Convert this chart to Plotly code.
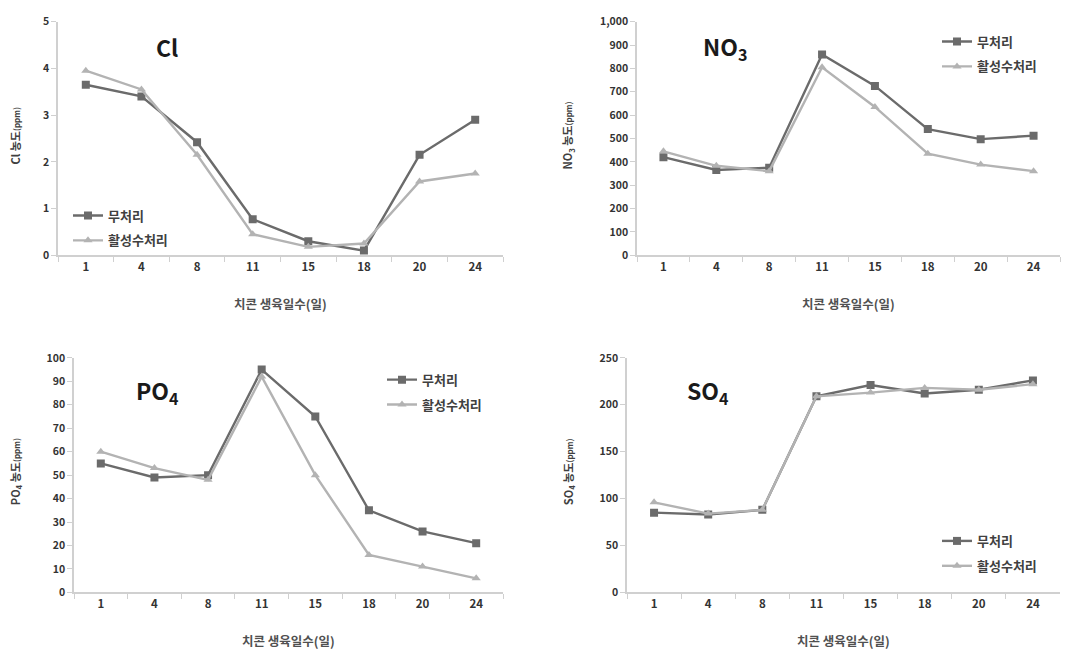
import plotly.graph_objects as go

days = ["1", "4", "8", "11", "15", "18", "20", "24"]
series_names = ["무처리", "활성수처리"]

cl_none = [3.65, 3.40, 2.42, 0.77, 0.30, 0.10, 2.15, 2.90]
cl_act = [3.95, 3.55, 2.15, 0.45, 0.18, 0.25, 1.58, 1.75]

no3_none = [420, 365, 375, 860, 725, 540, 497, 512]
no3_act = [445, 383, 360, 805, 635, 435, 388, 360]

po4_none = [55, 49, 50, 95, 75, 35, 26, 21]
po4_act = [60, 53, 48, 92, 50, 16, 11, 6]

so4_none = [85, 83, 88, 209, 221, 212, 216, 226]
so4_act = [96, 84, 88, 209, 213, 218, 216, 222]

cl_ticks = [0, 1, 2, 3, 4, 5]
cl_labels = ["0", "1", "2", "3", "4", "5"]
no3_ticks = [0, 100, 200, 300, 400, 500, 600, 700, 800, 900, 1000]
no3_labels = ["0", "100", "200", "300", "400", "500", "600", "700", "800", "900", "1,000"]
po4_ticks = [0, 10, 20, 30, 40, 50, 60, 70, 80, 90, 100]
po4_labels = ["0", "10", "20", "30", "40", "50", "60", "70", "80", "90", "100"]
so4_ticks = [0, 50, 100, 150, 200, 250]
so4_labels = ["0", "50", "100", "150", "200", "250"]

W, H = 1073, 660
FONT = "Noto Sans CJK KR, Noto Sans, sans-serif"
DARK = "#6b6b6b"
LIGHT = "#b3b3b3"
AXIS = "#d0d0d0"

panels = [
    dict(none=cl_none, act=cl_act, yt=cl_ticks, yl=cl_labels,
         px=(58, 503), py=(14, 253), title="<b>Cl</b>", tpos=(167, 40),
         ytitle="<b>Cl 농도<span style='font-size:8px'>(ppm)</span></b>", ytx=15,
         leg=(68, 197)),
    dict(none=no3_none, act=no3_act, yt=no3_ticks, yl=no3_labels,
         px=(637, 1060), py=(14, 253), title="<b>NO<sub>3</sub></b>", tpos=(725, 40),
         ytitle="<b>NO<sub>3</sub> 농도<span style='font-size:8px'>(ppm)</span></b>", ytx=568,
         leg=(937, 19)),
    dict(none=po4_none, act=po4_act, yt=po4_ticks, yl=po4_labels,
         px=(74, 503), py=(358, 598), title="<b>PO<sub>4</sub></b>", tpos=(157, 392),
         ytitle="<b>PO<sub>4</sub> 농도<span style='font-size:8px'>(ppm)</span></b>", ytx=15,
         leg=(382, 365)),
    dict(none=so4_none, act=so4_act, yt=so4_ticks, yl=so4_labels,
         px=(627, 1060), py=(358, 598), title="<b>SO<sub>4</sub></b>", tpos=(708, 392),
         ytitle="<b>SO<sub>4</sub> 농도<span style='font-size:8px'>(ppm)</span></b>", ytx=568,
         leg=(937, 530)),
]

fig = go.Figure()
annotations = []
layout = {}

for i, p in enumerate(panels):
    n = i + 1
    xa = "x" if n == 1 else f"x{n}"
    ya = "y" if n == 1 else f"y{n}"
    legname = "legend" if n == 1 else f"legend{n}"
    for name, vals, color, sym, msize in [
        (series_names[0], p["none"], DARK, "square", 8),
        (series_names[1], p["act"], LIGHT, "triangle-up", 8),
    ]:
        fig.add_trace(go.Scatter(
            x=days, y=vals, name=name, mode="lines+markers",
            line=dict(color=color, width=2.4),
            marker=dict(symbol=sym, size=msize, color=color),
            xaxis=xa, yaxis=ya, legend=legname,
            legendgroup=f"{n}-{name}",
        ))
    x0, x1 = p["px"]
    y0, y1 = p["py"]
    xd = [x0 / W, x1 / W]
    yd = [1 - y1 / H, 1 - y0 / H]
    layout["xaxis" if n == 1 else f"xaxis{n}"] = dict(
        domain=xd, anchor=ya, type="category", range=[-0.5, 7.5],
        tickvals=days, ticktext=[f"<b>{d}</b>" for d in days],
        showline=True, linecolor=AXIS, linewidth=1.5,
        ticks="outside", tickson="boundaries", ticklen=5, tickcolor=AXIS,
        showgrid=False, zeroline=False,
        tickfont=dict(family=FONT, size=11.5, color="#333333"),
    )
    layout["yaxis" if n == 1 else f"yaxis{n}"] = dict(
        domain=yd, anchor=xa, range=[p["yt"][0], p["yt"][-1]],
        tickvals=p["yt"], ticktext=[f"<b>{t}</b>" for t in p["yl"]],
        showline=True, linecolor=AXIS, linewidth=1.5,
        ticks="outside", ticklen=5, tickcolor=AXIS,
        showgrid=False, zeroline=False,
        tickfont=dict(family=FONT, size=10.5, color="#333333"),
    )
    lx, ly = p["leg"]
    layout[legname] = dict(
        x=lx / W, y=1 - ly / H, xanchor="left", yanchor="top",
        bgcolor="rgba(0,0,0,0)", tracegroupgap=5, itemwidth=30,
        font=dict(family=FONT, size=13, color="#404040", weight="bold"),
    )
    tx, ty = p["tpos"]
    annotations.append(dict(
        x=tx / W, y=1 - ty / H, xref="paper", yref="paper", text=p["title"],
        showarrow=False, font=dict(family=FONT, size=23, color="#1a1a1a"),
        xanchor="center", yanchor="middle",
    ))
    annotations.append(dict(
        x=p["ytx"] / W, y=1 - ((y0 + y1) / 2 - 3) / H, xref="paper", yref="paper",
        text=p["ytitle"], textangle=-90, showarrow=False,
        font=dict(family=FONT, size=11, color="#404040"),
        xanchor="center", yanchor="middle",
    ))
    annotations.append(dict(
        x=(x0 + x1) / 2 / W, y=1 - (y1 + 49) / H, xref="paper", yref="paper",
        text="<b>치콘 생육일수(일)</b>", showarrow=False,
        font=dict(family=FONT, size=12.5, color="#505050"),
        xanchor="center", yanchor="middle",
    ))

fig.update_layout(
    width=W, height=H, margin=dict(l=0, r=0, t=0, b=0),
    paper_bgcolor="white", plot_bgcolor="white",
    showlegend=True, annotations=annotations, **layout,
)

fig.write_html("out.html")
